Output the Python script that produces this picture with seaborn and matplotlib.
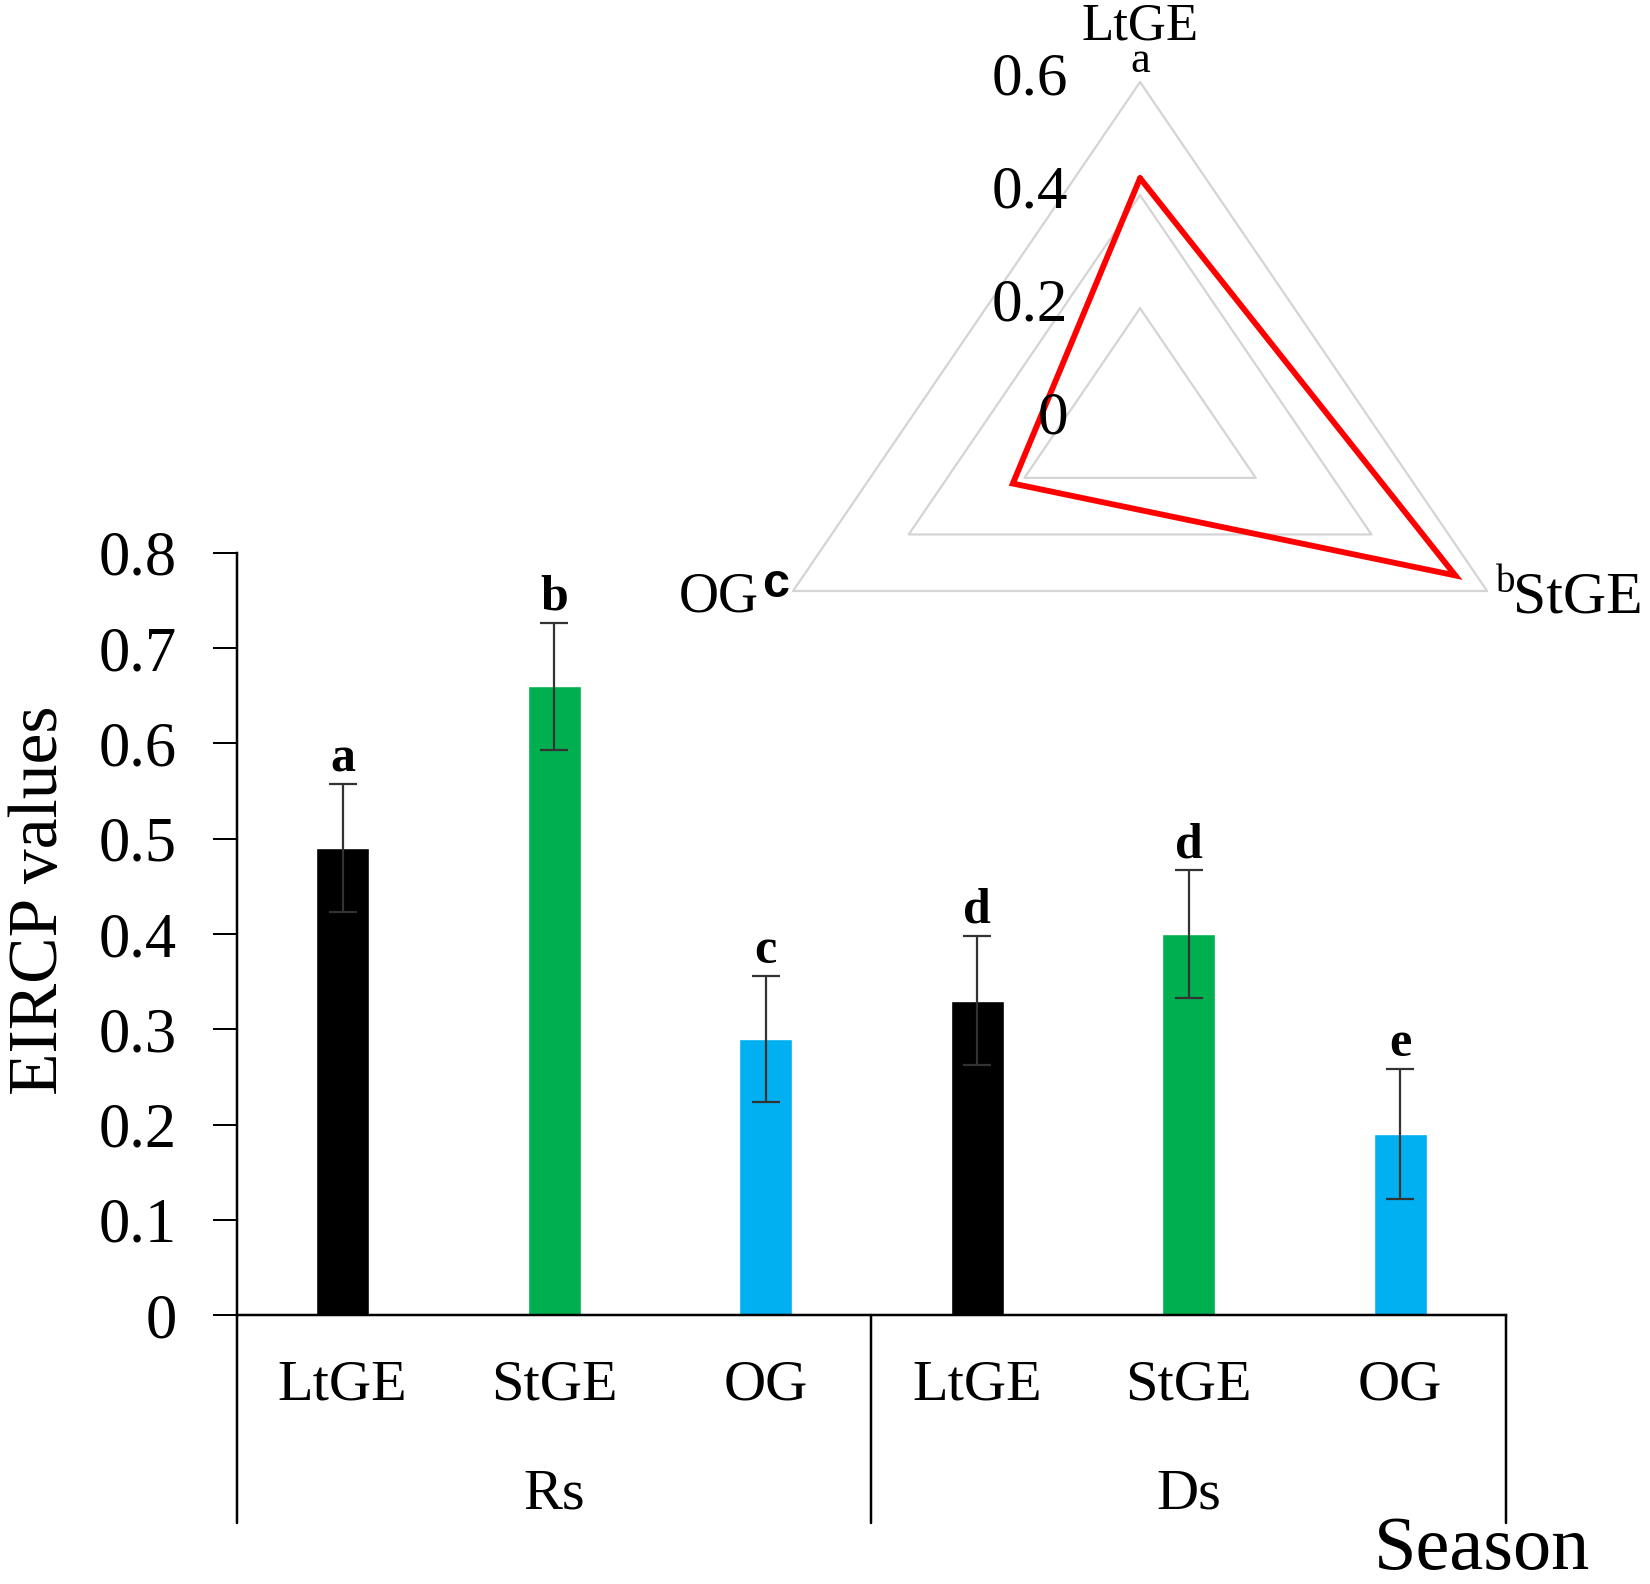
import matplotlib
matplotlib.use("Agg")
import matplotlib.pyplot as plt
import matplotlib.transforms as mtransforms
import seaborn as sns
import numpy as np
import pandas as pd

# ---------------- data ----------------
categories = ["LtGE", "StGE", "OG"]
seasons = ["Rs", "Ds"]
rs_values = [0.49, 0.66, 0.29]
ds_values = [0.33, 0.40, 0.19]
rs_errors = [0.067, 0.067, 0.066]
ds_errors = [0.068, 0.067, 0.068]
rs_letters = ["a", "b", "c"]
ds_letters = ["d", "d", "e"]
bar_colors = ["#000000", "#00B050", "#00B0F0"]
y_ticks = [0, 0.1, 0.2, 0.3, 0.4, 0.5, 0.6, 0.7, 0.8]
y_tick_labels = ["0", "0.1", "0.2", "0.3", "0.4", "0.5", "0.6", "0.7", "0.8"]

radar_labels = ["LtGE", "StGE", "OG"]
radar_values = [0.43, 0.545, 0.22]
radar_letters = ["a", "b", "c"]
radar_ticks = [0, 0.2, 0.4, 0.6]
radar_tick_labels = ["0", "0.2", "0.4", "0.6"]
radar_angles_deg = [90, 330, 210]

# ---------------- table ----------------
rows = []
for s, vals, errs, lets in [("Rs", rs_values, rs_errors, rs_letters),
                            ("Ds", ds_values, ds_errors, ds_letters)]:
    for c, v, e, l in zip(categories, vals, errs, lets):
        rows.append({"season": s, "category": c, "key": f"{s}-{c}",
                     "value": v, "error": e, "letter": l})
df = pd.DataFrame(rows)
order = list(df["key"])

# ---------------- style ----------------
sns.set_theme(style="white")
plt.rcParams["font.family"] = ["Liberation Serif", "DejaVu Serif"]
plt.rcParams["text.color"] = "black"
plt.rcParams["axes.labelcolor"] = "black"
plt.rcParams["xtick.color"] = "black"
plt.rcParams["ytick.color"] = "black"
PX = 0.72  # points per pixel at dpi 100

fig = plt.figure(figsize=(16.5, 15.84), dpi=100)
ax = fig.add_axes([0.1436, 0.1698, 0.7691, 0.4811])

sns.barplot(data=df, x="key", y="value", hue="category", order=order,
            hue_order=categories, palette=dict(zip(categories, bar_colors)),
            dodge=False, width=0.25, legend=False, ax=ax, errorbar=None,
            saturation=1)

xpos = np.arange(len(order))
ax.errorbar(xpos, df["value"], yerr=df["error"], fmt="none",
            ecolor="#333333", elinewidth=1.6, capsize=10, capthick=1.6, zorder=5)

for x, v, e, l in zip(xpos, df["value"], df["error"], df["letter"]):
    ax.annotate(l, xy=(x, v + e), xytext=(0, 13 * PX), textcoords="offset points",
                ha="center", va="baseline", fontsize=36, fontweight="bold",
                color="black")

ax.set_xlim(-0.5, len(order) - 0.5)
ax.set_ylim(0, 0.8)
ax.set_yticks(y_ticks)
ax.set_yticklabels(y_tick_labels)
ax.set_xticks(xpos)
ax.set_xticklabels(list(df["category"]))
ax.set_xlabel("")
ax.set_ylabel("")
ax.tick_params(axis="y", labelsize=45, length=24 * PX, width=2 * PX,
               direction="out", pad=36 * PX, left=True, color="black",
               labelcolor="black")
ax.tick_params(axis="x", labelsize=42, length=0, pad=44 * PX,
               labelcolor="black")
for side in ["top", "right"]:
    ax.spines[side].set_visible(False)
for side in ["left", "bottom"]:
    ax.spines[side].set_color("black")
    ax.spines[side].set_linewidth(2.5 * PX)

# group separators and season labels
blend = mtransforms.blended_transform_factory(ax.transData, ax.transAxes)
n = len(categories)
for k in range(len(seasons) + 1):
    xv = k * n - 0.5
    ax.plot([xv, xv], [0, -0.273], transform=blend, clip_on=False,
            color="black", lw=2.5 * PX)
for k, s in enumerate(seasons):
    ax.text(k * n + (n - 1) / 2, -0.2533, s, transform=blend, ha="center",
            va="baseline", fontsize=42, color="black")
ax.text(0.981, -0.333, "Season", transform=ax.transAxes, ha="center",
        va="baseline", fontsize=55, color="black")

fig.text(0.0242, 0.4318, "EIRCP values", rotation=90, ha="center",
         va="center", fontsize=50, color="black")

# ---------------- radar ----------------
rax = fig.add_axes([0.4076, 0.4841, 0.5667, 0.4998], projection="polar")
rax.set_aspect("auto")
rax.set_ylim(0, 0.7)
rax.patch.set_alpha(0)
rax.axis("off")

ang = np.deg2rad(radar_angles_deg)
ang_c = np.append(ang, ang[0])
for t in radar_ticks[1:]:
    rax.plot(ang_c, [t] * len(ang_c), color="#D4D4D4", lw=1.6, zorder=1)
vals_c = np.append(radar_values, radar_values[0])
rax.plot(ang_c, vals_c, color="#FF0000", lw=4.2, zorder=3,
         solid_joinstyle="miter")

rmax = radar_ticks[-1]
for t, lab in zip(radar_ticks, radar_tick_labels):
    rax.annotate(lab, xy=(ang[0], t), xytext=(-72 * PX, -12 * PX),
                 textcoords="offset points", ha="right", va="baseline",
                 fontsize=44, annotation_clip=False, color="black")

# axis names and letters
rax.annotate(radar_labels[0], xy=(ang[0], rmax), xytext=(0, 43 * PX),
             textcoords="offset points", ha="center", va="baseline",
             fontsize=38, annotation_clip=False, color="black")
rax.annotate(radar_letters[0], xy=(ang[0], rmax), xytext=(0, 10 * PX),
             textcoords="offset points", ha="center", va="baseline",
             fontsize=32, annotation_clip=False, color="black")
rax.annotate(radar_labels[1], xy=(ang[1], rmax), xytext=(26 * PX, -22 * PX),
             textcoords="offset points", ha="left", va="baseline",
             fontsize=43, annotation_clip=False, color="black")
rax.annotate(radar_letters[1], xy=(ang[1], rmax), xytext=(9 * PX, -1 * PX),
             textcoords="offset points", ha="left", va="baseline",
             fontsize=28, annotation_clip=False, color="black")
rax.annotate(radar_labels[2], xy=(ang[2], rmax), xytext=(-34 * PX, -21 * PX),
             textcoords="offset points", ha="right", va="baseline",
             fontsize=40, annotation_clip=False, color="black")
rax.annotate(radar_letters[2], xy=(ang[2], rmax), xytext=(-4 * PX, -6 * PX),
             textcoords="offset points", ha="right", va="baseline",
             fontsize=35, fontweight="bold", family=["Liberation Sans", "DejaVu Sans"],
             annotation_clip=False, color="black")

fig.savefig("out.png", dpi=100, facecolor="white")
